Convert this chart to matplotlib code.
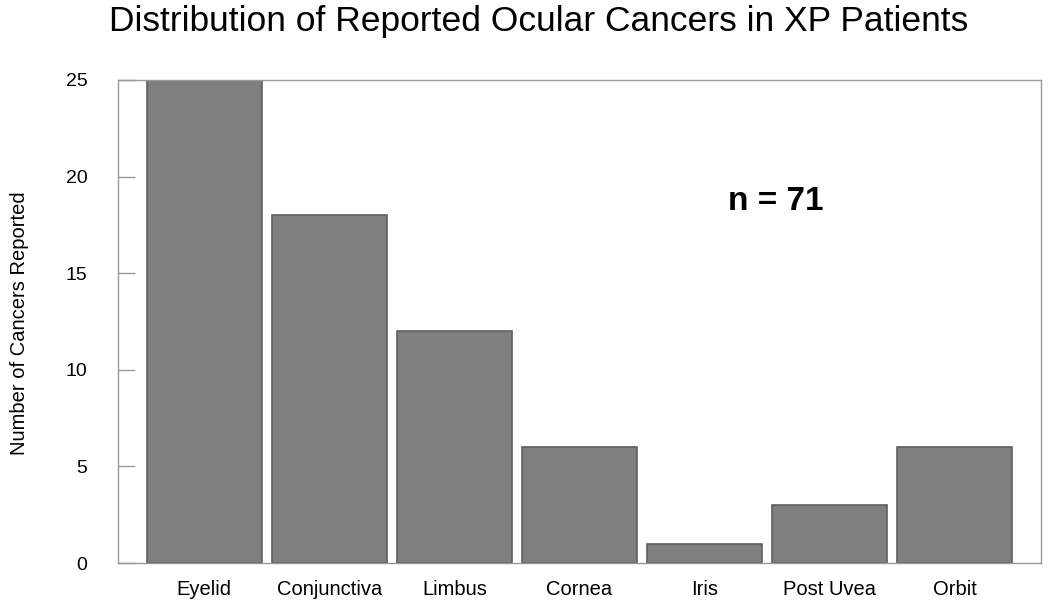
import matplotlib.pyplot as plt

sites = ["Eyelid", "Conjunctiva", "Limbus", "Cornea", "Iris", "Post Uvea", "Orbit"]
counts = [25, 18, 12, 6, 1, 3, 6]
yticks = [0, 5, 10, 15, 20, 25]

plt.rcParams['font.family'] = ['Liberation Sans', 'DejaVu Sans']

fig = plt.figure(figsize=(10.5, 6.07), dpi=100)
ax = fig.add_axes([118 / 1050, 1 - 563 / 607, (1041 - 118) / 1050, (563 - 80) / 607])

x = range(len(sites))
ax.bar(x, counts, width=0.92, color="#7f7f7f", edgecolor="#5f5f5f", linewidth=1.2)

ax.set_xlim(-0.69, len(sites) - 1 + 0.69)
ax.set_ylim(0, 25)
ax.set_yticks(yticks)
ax.set_xticks(list(x))
ax.set_xticklabels(sites, fontsize=14.5)
ax.tick_params(axis="x", length=0, pad=12)
ax.tick_params(axis="y", direction="in", length=12, width=1, color="#999999", labelsize=14, pad=22)
for s in ax.spines.values():
    s.set_color("#999999")
    s.set_linewidth(1)

fig.text(20 / 1050, 1 - 323 / 607, "Number of Cancers Reported", fontsize=14.5,
         rotation=90, ha="center", va="center")
ax.text(4.57, 18.7, "n = 71", fontsize=24, fontweight="bold", ha="center", va="center")
fig.text(0.513, 0.965, "Distribution of Reported Ocular Cancers in XP Patients",
         fontsize=25.5, ha="center", va="center")

fig.savefig("out.png", dpi=100)
